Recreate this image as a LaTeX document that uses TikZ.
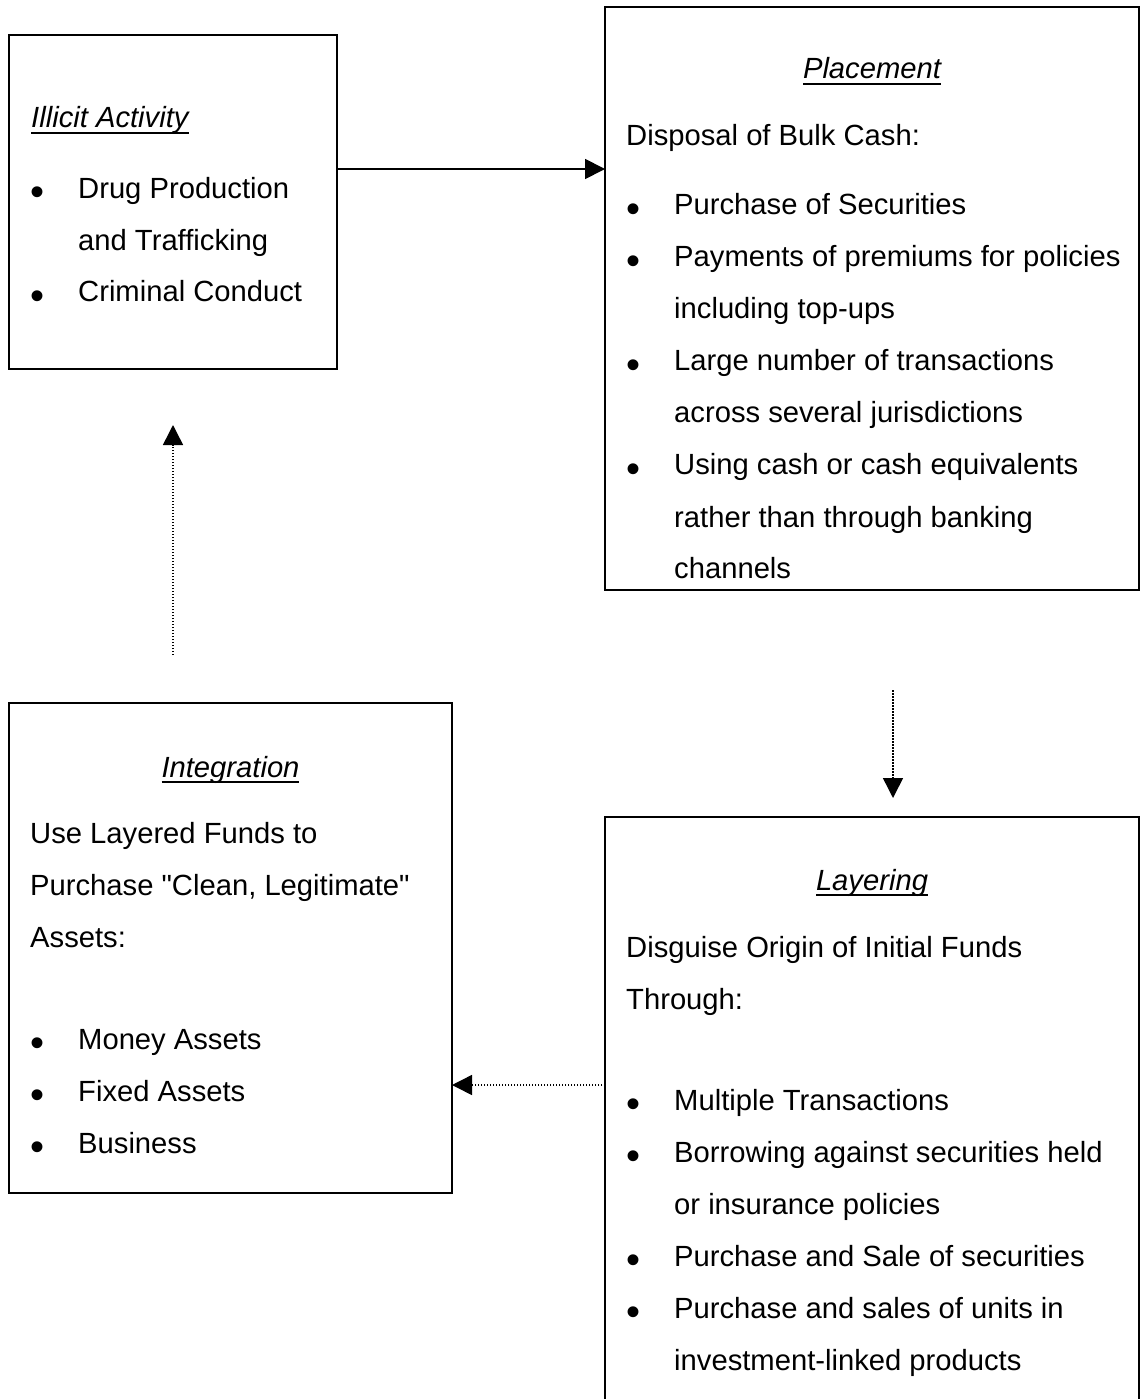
\documentclass[tikz,border=0pt]{standalone}
\usepackage{fontspec}
\setmainfont{Liberation Sans}[Ligatures=TeXOff]
\usepackage{tikz}
\usetikzlibrary{arrows.meta, positioning}

\newcommand{\boxtitle}[1]{\setbox0\hbox{\itshape #1}\rlap{\rule[-6pt]{\wd0}{2pt}}\box0}
\newcommand{\bigdot}{\raisebox{-7.5pt}{\fontsize{40}{40}\selectfont\textbullet}}
\newcommand{\bitem}[1]{\makebox[48pt][l]{\bigdot}#1\par}
\newcommand{\bcont}[1]{\hspace*{48pt}#1\par}

\begin{document}
\begin{tikzpicture}[
    x=1pt, y=-1pt,
    box/.style={rectangle, draw, line width=1.8pt, inner sep=0pt, outer sep=0pt, anchor=north west},
    boxhead/.style={inner sep=0pt, font=\fontsize{29.2}{52}\selectfont},
    body/.style={inner sep=0pt, anchor=base west, font=\fontsize{29.2}{52}\selectfont},
    arrow/.style={-{Triangle[length=20pt, width=20pt]}, line width=1.8pt},
    dotarrow/.style={arrow, line width=1.5pt, dash pattern=on 1.5pt off 1.5pt}
]
\useasboundingbox (0,0) rectangle (1140,1399);
\clip (0,0) rectangle (1140,1399);

% the four stages
\node[box, minimum width=328pt, minimum height=334pt] (illicit) at (9,35) {};
\node[box, minimum width=534pt, minimum height=583pt] (placement) at (605,7) {};
\node[box, minimum width=443pt, minimum height=490pt] (integration) at (9,703) {};
\node[box, minimum width=534pt, minimum height=650pt] (layering) at (605,817) {};

\node[boxhead, anchor=base west] (illicit head) at ([xshift=22pt, yshift=-93pt]illicit.north west) {\boxtitle{Illicit Activity}};
\node[boxhead, anchor=base] (placement head) at ([yshift=-72pt]placement.north) {\boxtitle{Placement}};
\node[boxhead, anchor=base] (integration head) at ([yshift=-74pt]integration.north) {\boxtitle{Integration}};
\node[boxhead, anchor=base] (layering head) at ([yshift=-73pt]layering.north) {\boxtitle{Layering}};

\node[body] (illicit text) at ([xshift=21pt, yshift=-163pt]illicit.north west) {\parbox[t]{300pt}{%
    \bitem{Drug Production}
    \bcont{and Trafficking}
    \bitem{Criminal Conduct}}};

\node[body] (placement text) at ([xshift=21pt, yshift=-139pt]placement.north west) {\parbox[t]{500pt}{%
    Disposal of Bulk Cash:\par\vspace{17pt}
    \bitem{Purchase of Securities}
    \bitem{Payments of premiums for policies}
    \bcont{including top-ups}
    \bitem{Large number of transactions}
    \bcont{across several jurisdictions}
    \bitem{Using cash or cash equivalents}
    \bcont{rather than through banking}
    \bcont{channels}}};

\node[body] (integration text) at ([xshift=21pt, yshift=-140pt]integration.north west) {\parbox[t]{415pt}{%
    Use Layered Funds to\par
    Purchase "Clean, Legitimate"\par
    Assets:\par\vspace{50pt}
    \bitem{Money Assets}
    \bitem{Fixed Assets}
    \bitem{Business}}};

\node[body] (layering text) at ([xshift=21pt, yshift=-140pt]layering.north west) {\parbox[t]{500pt}{%
    Disguise Origin of Initial Funds\par
    Through:\par\vspace{49pt}
    \bitem{Multiple Transactions}
    \bitem{Borrowing against securities held}
    \bcont{or insurance policies}
    \bitem{Purchase and Sale of securities}
    \bitem{Purchase and sales of units in}
    \bcont{investment-linked products}}};

% connectors
\coordinate (cash) at ([yshift=33pt]illicit.east);
\coordinate (drop) at ([xshift=21pt]placement.south);
\coordinate (back) at ([yshift=-137pt]integration.east);

\draw[arrow] (cash) -- (cash -| placement.west);
\draw[dotarrow, shorten <=100pt, shorten >=19pt] (drop) -- (drop |- layering.north);
\draw[dotarrow] (back -| layering.west) -- (back);
\draw[dotarrow, shorten <=48pt, shorten >=56pt] (illicit.south |- integration.north) -- (illicit.south);

\end{tikzpicture}
\end{document}
